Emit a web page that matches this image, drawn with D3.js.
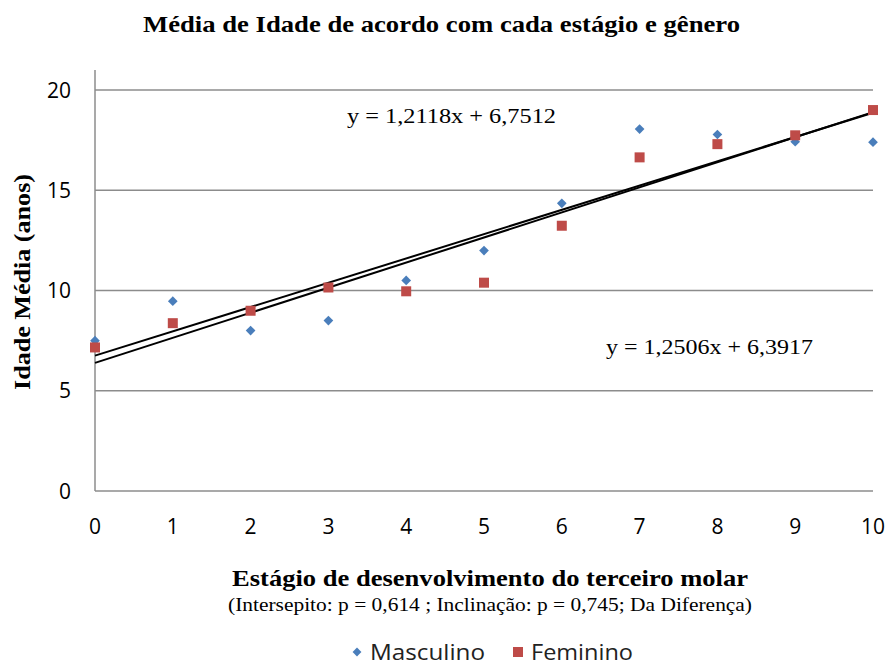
<!DOCTYPE html>
<html>
<head>
<meta charset="utf-8">
<script src="https://cdn.jsdelivr.net/npm/d3@7"></script>
<style>
  html, body { margin: 0; padding: 0; background: #fff; }
  svg { display: block; }
</style>
</head>
<body>
<div id="chart"></div>
<script>
// ---- data ----
const stages = [0, 1, 2, 3, 4, 5, 6, 7, 8, 9, 10];
const masculino = [7.5, 9.47, 8.0, 8.5, 10.5, 11.99, 14.35, 18.05, 17.78, 17.42, 17.4];
const feminino = [7.16, 8.37, 8.99, 10.15, 9.96, 10.39, 13.23, 16.64, 17.3, 17.74, 19.0];
const seriesNames = ["Masculino", "Feminino"];
const trendSlopes = [1.2118, 1.2506];
const trendIntercepts = [6.7512, 6.3917];
const trendLabels = ["y = 1,2118x + 6,7512", "y = 1,2506x + 6,3917"];
const yTicks = [0, 5, 10, 15, 20];
const xTicks = [0, 1, 2, 3, 4, 5, 6, 7, 8, 9, 10];
const titleText = "Média de Idade de acordo com cada estágio e gênero";
const xTitleText = "Estágio de desenvolvimento  do terceiro  molar";
const xSubText = "(Intersepito: p = 0,614 ; Inclinação: p = 0,745; Da Diferença)";
const yTitleText = "Idade Média (anos)";

// ---- layout ----
const W = 887, H = 666;
const colors = ["#4a7ebb", "#be4b48"];
const serif = "'Liberation Serif', 'Times New Roman', serif";
const sans = "'Open Sans', 'Liberation Sans', sans-serif";

const svg = d3.select("#chart").append("svg").attr("width", W).attr("height", H);

const x = d3.scaleLinear().domain([0, 10]).range([95, 873]);
const y = d3.scaleLinear().domain([0, 20]).range([491, 90]);

// gridlines
svg.append("g").selectAll("line").data(yTicks).join("line")
  .attr("x1", x(0)).attr("x2", x(10))
  .attr("y1", d => y(d)).attr("y2", d => y(d))
  .attr("stroke", "#8c8c8c").attr("stroke-width", 1.5);

// y axis line
svg.append("line").attr("x1", x(0)).attr("x2", x(0))
  .attr("y1", 70).attr("y2", y(0))
  .attr("stroke", "#8c8c8c").attr("stroke-width", 1.5);

// y tick labels
svg.append("g").selectAll("text").data(yTicks).join("text")
  .attr("x", 71).attr("y", d => y(d)).attr("dy", "0.36em")
  .attr("text-anchor", "end")
  .attr("font-family", sans).attr("font-size", 21).attr("fill", "#000")
  .text(d => d);

// x tick labels
svg.append("g").selectAll("text").data(xTicks).join("text")
  .attr("x", d => x(d)).attr("y", 534)
  .attr("text-anchor", "middle")
  .attr("font-family", sans).attr("font-size", 21).attr("fill", "#000")
  .text(d => d);

// trend lines
const line = d3.line().x(d => x(d[0])).y(d => y(d[1]));
trendSlopes.forEach((m, i) => {
  const b = trendIntercepts[i];
  svg.append("path")
    .attr("d", line([[0, b], [10, m * 10 + b]]))
    .attr("fill", "none").attr("stroke", "#000").attr("stroke-width", 2);
});

// markers
const diamond = d3.symbol().type(d3.symbolDiamond2).size(60);
svg.append("g").selectAll("path").data(stages).join("path")
  .attr("d", diamond)
  .attr("transform", (d, i) => `translate(${x(d)},${y(masculino[i])})`)
  .attr("fill", colors[0]);

svg.append("g").selectAll("rect").data(stages).join("rect")
  .attr("x", d => x(d) - 5).attr("y", (d, i) => y(feminino[i]) - 5)
  .attr("width", 10).attr("height", 10)
  .attr("fill", colors[1]);

// trend equations
svg.append("text").attr("x", 347).attr("y", 123)
  .attr("font-family", serif).attr("font-size", 20)
  .attr("textLength", 209).attr("lengthAdjust", "spacingAndGlyphs")
  .text(trendLabels[0]);
svg.append("text").attr("x", 606).attr("y", 354)
  .attr("font-family", serif).attr("font-size", 20)
  .attr("textLength", 207).attr("lengthAdjust", "spacingAndGlyphs")
  .text(trendLabels[1]);

// title
svg.append("text").attr("x", 143).attr("y", 32)
  .attr("font-family", serif).attr("font-weight", "bold").attr("font-size", 23)
  .attr("textLength", 597).attr("lengthAdjust", "spacingAndGlyphs")
  .text(titleText);

// x axis title
svg.append("text").attr("x", 232).attr("y", 586)
  .attr("font-family", serif).attr("font-weight", "bold").attr("font-size", 23)
  .attr("textLength", 516).attr("lengthAdjust", "spacingAndGlyphs")
  .text(xTitleText);
svg.append("text").attr("x", 228).attr("y", 611)
  .attr("font-family", serif).attr("font-size", 18)
  .attr("textLength", 524).attr("lengthAdjust", "spacingAndGlyphs")
  .text(xSubText);

// y axis title
svg.append("text")
  .attr("transform", "translate(30,390) rotate(-90)")
  .attr("font-family", serif).attr("font-weight", "bold").attr("font-size", 23)
  .attr("textLength", 216).attr("lengthAdjust", "spacingAndGlyphs")
  .text(yTitleText);

// legend
const legend = svg.append("g");
const legendX = [357, 518];
const legendTextLen = [115, 102];
seriesNames.forEach((name, i) => {
  const g = legend.append("g").attr("transform", `translate(${legendX[i]},652)`);
  if (i === 0) {
    g.append("path").attr("d", d3.symbol().type(d3.symbolDiamond2).size(50)).attr("fill", colors[0]);
  } else {
    g.append("rect").attr("x", -5).attr("y", -5).attr("width", 10).attr("height", 10).attr("fill", colors[1]);
  }
  g.append("text").attr("x", 13).attr("y", 0).attr("dy", "0.36em")
    .attr("font-family", sans).attr("font-size", 21).attr("fill", "#222")
    .attr("textLength", legendTextLen[i]).attr("lengthAdjust", "spacingAndGlyphs")
    .text(name);
});
</script>
</body>
</html>
